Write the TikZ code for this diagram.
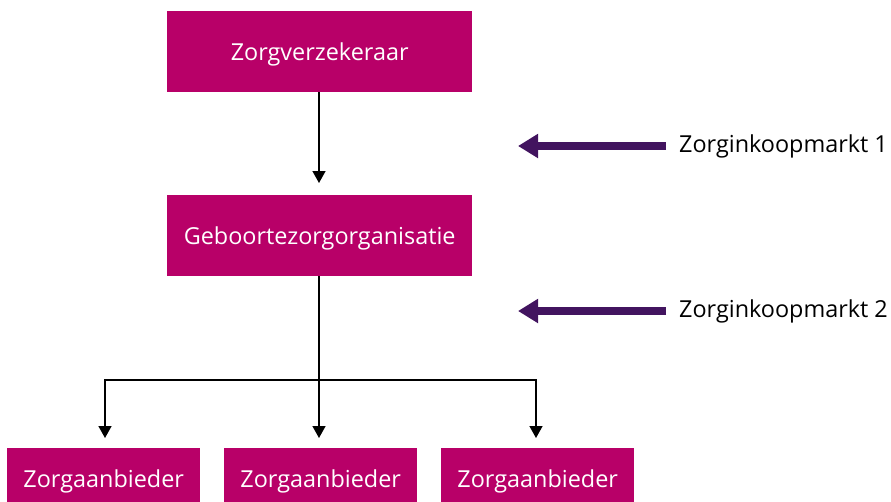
\documentclass[tikz,border=0pt]{standalone}
\usepackage{fontspec}
\setmainfont{Open Sans}
\usetikzlibrary{arrows.meta}
\definecolor{boxmag}{HTML}{B80068}
\definecolor{arrpurple}{HTML}{42145F}
\begin{document}
\begin{tikzpicture}[x=1pt,y=-1pt,
  orgbox/.style={fill=boxmag,text=white,inner sep=0pt,anchor=north west,font=\fontsize{23.4}{28}\selectfont},
  bigbox/.style={orgbox,minimum width=305pt,text height=49pt,text depth=32pt},
  smallbox/.style={orgbox,minimum width=193pt,text height=39pt,text depth=17pt},
  conn/.style={line width=1.5pt,-{Triangle[width=13pt,length=12pt]}},
  mkt/.style={draw=arrpurple,line width=8pt,-{Triangle[width=23pt,length=20pt]}},
  mktlbl/.style={anchor=base west,inner sep=0pt,font=\fontsize{23.4}{28}\selectfont}]
\useasboundingbox (0,0) rectangle (891,501);
\node[bigbox] (zv) at (167,11) {Zorgverzekeraar};
\node[bigbox] (gz) at (167,195) {Geboortezorgorganisatie};
\node[smallbox] (za1) at (7,448) {Zorgaanbieder};
\node[smallbox] (za2) at (224,448) {Zorgaanbieder};
\node[smallbox] (za3) at (441,448) {Zorgaanbieder};
\coordinate (t1) at (319,183);
\coordinate (split) at (319,380);
\coordinate (e1) at (105,438);
\coordinate (e2) at (319,438);
\coordinate (e3) at (536,438);
\draw[conn] (zv.south -| t1) -- (t1);
\draw[line width=1.5pt] (gz.south -| split) -- (split);
\draw[conn] (split) -| (e1);
\draw[conn] (split) -- (e2);
\draw[conn] (split) -| (e3);
\node[mktlbl] (m1) at (679,152) {Zorginkoopmarkt 1};
\node[mktlbl] (m2) at (679,317) {Zorginkoopmarkt 2};
\coordinate (a1) at (518,146);
\coordinate (a2) at (518,311);
\draw[mkt] (666,146) coordinate (s1) -- (a1);
\draw[mkt] (666,311) coordinate (s2) -- (a2);
\end{tikzpicture}
\end{document}
